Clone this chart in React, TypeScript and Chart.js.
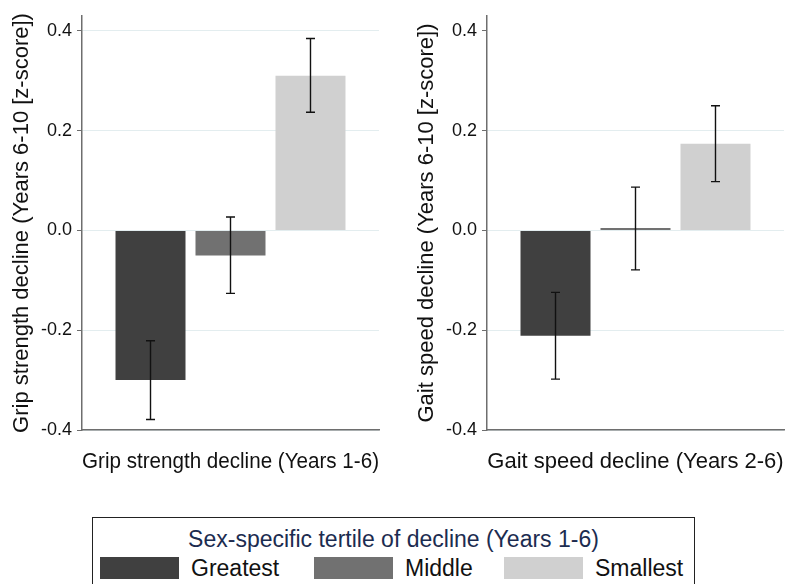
import React, { useEffect, useRef } from "react";
import { Chart, registerables } from "chart.js";

Chart.register(...registerables);

// Tertile groups and their fills
const tertiles = ["Greatest", "Middle", "Smallest"];
const tertileColors = ["#404040", "#717171", "#d0d0d0"];

// Shared y-axis ticks (z-score)
const yTicks = [-0.4, -0.2, 0, 0.2, 0.4];

// Grip strength panel: mean and 95% CI per tertile
const gripMeans = [-0.3, -0.05, 0.31];
const gripLower = [-0.379, -0.126, 0.237];
const gripUpper = [-0.221, 0.027, 0.385];

// Gait speed panel: mean and 95% CI per tertile
const gaitMeans = [-0.211, 0.005, 0.174];
const gaitLower = [-0.298, -0.079, 0.098];
const gaitUpper = [-0.124, 0.087, 0.25];

const FONT = '"Liberation Sans", Arial, Helvetica, sans-serif';
const AXIS_GRAY = "#6e6e6e";
const GRID = "#e3edef";

// Draws capped confidence-interval whiskers over each bar
const errorBarPlugin = {
  id: "errorBars",
  afterDatasetsDraw(chart: any, _args: any, opts: any) {
    const { ctx } = chart;
    const y = chart.scales.y;
    ctx.save();
    ctx.strokeStyle = "#111111";
    ctx.lineWidth = 1.4;
    chart.data.datasets.forEach((_ds: any, i: number) => {
      const bar = chart.getDatasetMeta(i).data[0];
      if (!bar) return;
      const x = bar.x;
      const yLo = y.getPixelForValue(opts.lower[i]);
      const yHi = y.getPixelForValue(opts.upper[i]);
      const cap = 4.5;
      ctx.beginPath();
      ctx.moveTo(x, yLo);
      ctx.lineTo(x, yHi);
      ctx.moveTo(x - cap, yLo);
      ctx.lineTo(x + cap, yLo);
      ctx.moveTo(x - cap, yHi);
      ctx.lineTo(x + cap, yHi);
      ctx.stroke();
    });
    ctx.restore();
  },
};

type PanelProps = {
  xTitle: string;
  yTitle: string;
  means: number[];
  lower: number[];
  upper: number[];
  width: number;
  padRight: number;
  topGrid: boolean;
};

function Panel({ xTitle, yTitle, means, lower, upper, width, padRight, topGrid }: PanelProps) {
  const ref = useRef<HTMLCanvasElement | null>(null);

  useEffect(() => {
    if (!ref.current) return;
    Chart.defaults.font.family = FONT;
    const chart = new Chart(ref.current, {
      type: "bar",
      data: {
        labels: [xTitle],
        datasets: tertiles.map((t, i) => ({
          label: t,
          data: [means[i]],
          backgroundColor: tertileColors[i],
          borderWidth: 0,
          categoryPercentage: 0.808,
          barPercentage: 0.875,
        })),
      },
      options: {
        animation: false,
        responsive: false,
        devicePixelRatio: 1,
        layout: { padding: { top: 16, right: padRight, left: 0, bottom: 0 } },
        plugins: {
          legend: { display: false },
          tooltip: { enabled: false },
          errorBars: { lower, upper },
        } as any,
        scales: {
          x: {
            ticks: { display: false },
            grid: { display: false },
            border: { display: true, color: AXIS_GRAY, width: 1.5 },
            title: {
              display: true,
              text: xTitle,
              color: "#111111",
              font: { size: 22, family: FONT },
              padding: { top: 0, bottom: 15 },
            },
            afterFit: (s: any) => {
              s.height = 60;
            },
          },
          y: {
            min: -0.4,
            max: 0.43,
            afterBuildTicks: (s: any) => {
              s.ticks = yTicks.map((v) => ({ value: v }));
            },
            afterFit: (s: any) => {
              s.width = 82;
            },
            ticks: {
              color: "#111111",
              font: { size: 18, family: FONT },
              padding: 5,
              callback: (v: any) => Number(v).toFixed(1),
            },
            grid: {
              color: (c: any) =>
                !topGrid && c.tick && Math.abs(c.tick.value - 0.4) < 1e-9 ? "rgba(0,0,0,0)" : GRID,
              tickColor: AXIS_GRAY,
              tickLength: 5,
              lineWidth: 1,
            },
            border: { display: true, color: AXIS_GRAY, width: 1.5 },
            title: {
              display: true,
              text: yTitle,
              color: "#111111",
              font: { size: 22, family: FONT },
              padding: { top: 9, bottom: 0 },
            },
          },
        },
      },
      plugins: [errorBarPlugin],
    });
    return () => chart.destroy();
  }, []);

  return <canvas ref={ref} width={width} height={490} style={{ display: "block" }} />;
}

export default function App() {
  const legendItems = [
    { swatch: 100, label: 191 },
    { swatch: 314, label: 405 },
    { swatch: 504, label: 595 },
  ];
  return (
    <div
      style={{
        position: "absolute",
        left: 0,
        top: 0,
        width: 788,
        height: 584,
        overflow: "hidden",
        background: "#ffffff",
        fontFamily: FONT,
      }}
    >
      <div style={{ position: "absolute", left: 0, top: 0 }}>
        <Panel
          xTitle="Grip strength decline (Years 1-6)"
          yTitle="Grip strength decline (Years 6-10 [z-score])"
          means={gripMeans}
          lower={gripLower}
          upper={gripUpper}
          width={394}
          padRight={15}
          topGrid={true}
        />
      </div>
      <div style={{ position: "absolute", left: 405, top: 0 }}>
        <Panel
          xTitle="Gait speed decline (Years 2-6)"
          yTitle="Gait speed decline (Years 6-10 [z-score])"
          means={gaitMeans}
          lower={gaitLower}
          upper={gaitUpper}
          width={383}
          padRight={4}
          topGrid={false}
        />
      </div>

      {/* Shared legend */}
      <div
        style={{
          position: "absolute",
          left: 92,
          top: 517,
          width: 603,
          height: 90,
          boxSizing: "border-box",
          border: "1px solid #222222",
        }}
      />
      <div
        style={{
          position: "absolute",
          left: 92,
          top: 526,
          width: 603,
          textAlign: "center",
          fontSize: 23,
          lineHeight: "26px",
          color: "#1c2c50",
          whiteSpace: "nowrap",
        }}
      >
        Sex-specific tertile of decline (Years 1-6)
      </div>
      {tertiles.map((t, i) => (
        <React.Fragment key={t}>
          <div
            style={{
              position: "absolute",
              left: legendItems[i].swatch,
              top: 557,
              width: 79,
              height: 22,
              background: tertileColors[i],
            }}
          />
          <div
            style={{
              position: "absolute",
              left: legendItems[i].label,
              top: 555,
              fontSize: 23,
              lineHeight: "26px",
              color: "#111111",
              whiteSpace: "nowrap",
            }}
          >
            {t}
          </div>
        </React.Fragment>
      ))}
    </div>
  );
}
